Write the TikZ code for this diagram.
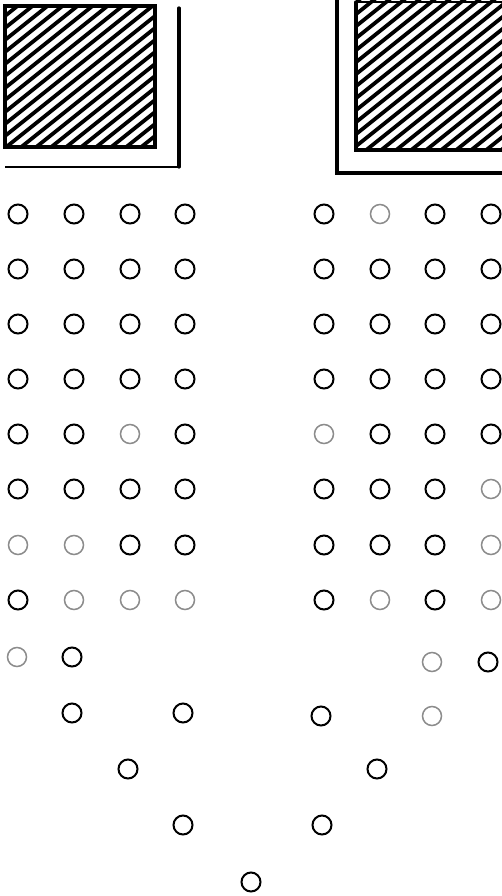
\documentclass[tikz,border=0pt]{standalone}
\begin{document}
\begin{tikzpicture}[x=1pt,y=-1pt,
  hole/.style={circle,draw=black,line width=2pt,minimum size=19pt,inner sep=0pt},
  faint/.style={hole,draw=black!45,line width=1.5pt},
  frame/.style={line width=3.2pt,line cap=round},
  hatchline/.style={line width=3.8pt}]
\useasboundingbox[fill=white] (0,0) rectangle (502,896);
% left hatched block
\begin{scope}
  \clip (5,6) rectangle (155,147);
  \foreach \k in {-180,-165,...,180}
    \draw[hatchline] (80+\k-110,76+88) -- (80+\k+110,76-88);
\end{scope}
\draw[frame] (5,6) rectangle (155,147);
\draw[frame] (179,8) -- (179,167);
\draw[line width=2.4pt] (179,167) -- (5,167);
% right hatched block
\begin{scope}
  \clip (356,0) rectangle (502,150);
  \foreach \k in {-180,-165,...,180}
    \draw[hatchline] (430+\k-110,75+88) -- (430+\k+110,75-88);
\end{scope}
\draw[frame] (356,2) -- (356,150) -- (505,150);
\draw[line width=2.4pt] (356,2) -- (505,2);
\draw[frame] (337,0) -- (337,173) -- (505,173);
% left grid of holes
\foreach \r/\y in {1/214,2/269,3/324,4/379,5/434,6/489,7/545,8/600}{
  \foreach \c/\x in {1/18,2/74,3/130,4/185}{
    \node[hole] (L\r\c) at (\x,\y) {};
  }
}
% right grid of holes
\foreach \r/\y in {1/214,2/269,3/324,4/379,5/434,6/489,7/545,8/600}{
  \foreach \c/\x in {1/324,2/380,3/435,4/491}{
    \node[hole] (R\r\c) at (\x,\y) {};
  }
}
% faint overdraws
\foreach \n in {L53,L71,L72,L82,L83,L84,R12,R51,R82,R84,R64,R74}{
  \fill[white] (\n) circle (11.5pt);
  \node[faint] at (\n) {};
}
% lower rows
\node[faint] (L91) at (17,657) {};
\node[hole] (L92) at (72,657) {};
\node[faint] (R91) at (432,662) {};
\node[hole] (R92) at (488,662) {};
\node[hole] (A1) at (72,713) {};
\node[hole] (A2) at (183,713) {};
\node[hole] (A3) at (321,716) {};
\node[faint] (A4) at (432,716) {};
\node[hole] (B1) at (128,769) {};
\node[hole] (B2) at (377,769) {};
\node[hole] (C1) at (183,825) {};
\node[hole] (C2) at (322,825) {};
\node[hole] (D1) at (251,882) {};
\end{tikzpicture}
\end{document}
